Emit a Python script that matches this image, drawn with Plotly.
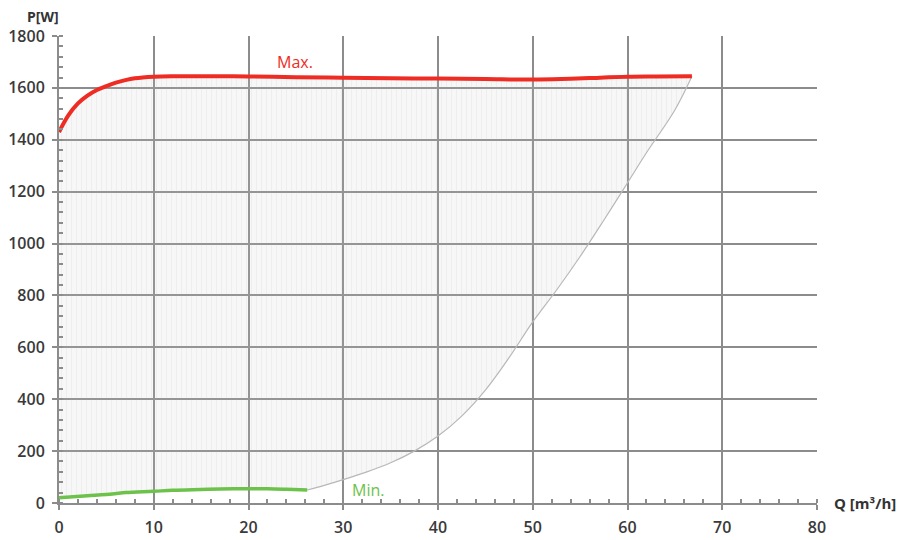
import plotly.graph_objects as go

# Max. curve (top of the operating range)
q_max = [0, 1, 2, 3, 4, 5, 6, 7, 8, 10, 12, 15, 20, 25, 30, 35, 40, 45, 50, 53, 56, 60, 63, 66.8]
p_max = [1430, 1495, 1540, 1570, 1592, 1607, 1620, 1630, 1637, 1643, 1645, 1645, 1644, 1641, 1639, 1637, 1636, 1634, 1632, 1634, 1638, 1643, 1644, 1645]

# right-hand boundary of the operating range
q_edge = [66.8, 65, 62, 60, 57.5, 55, 52.5, 50, 47.5, 45, 42.5, 40, 37.5, 35, 32.5, 30, 28, 26.2]
p_edge = [1645, 1515, 1350, 1234, 1090, 950, 820, 698, 560, 435, 335, 258, 200, 155, 120, 90, 68, 50]

# Min. curve (bottom of the operating range)
q_min = [26.2, 24, 22, 20, 17, 15, 12, 10, 7, 5, 3, 0]
p_min = [50, 53, 55, 55, 54, 52, 49, 45, 40, 33, 28, 20]

fig = go.Figure()

# shaded operating area (translucent so the grid shows through)
fig.add_trace(go.Scatter(
    x=q_max + q_edge + q_min,
    y=p_max + p_edge + p_min,
    mode="lines", fill="toself",
    line=dict(color="rgba(0,0,0,0)", width=0),
    fillcolor="rgba(200,200,200,0.15)",
    fillpattern=dict(shape="|", size=5, solidity=0.15,
                     fgcolor="rgba(170,170,170,0.3)", bgcolor="rgba(200,200,200,0.14)"),
    hoverinfo="skip", showlegend=False,
))

fig.add_trace(go.Scatter(x=q_edge, y=p_edge, mode="lines",
                         line=dict(color="#b8b8b8", width=1.2, shape="spline"),
                         showlegend=False))
fig.add_trace(go.Scatter(x=q_max, y=p_max, mode="lines",
                         line=dict(color="#ee2c24", width=4, shape="spline"),
                         showlegend=False))
fig.add_trace(go.Scatter(x=q_min, y=p_min, mode="lines",
                         line=dict(color="#6cc24a", width=3.5, shape="spline"),
                         showlegend=False))

fig.add_annotation(x=24.9, y=1700, text="Max.", showarrow=False,
                   font=dict(color="#ee2c24", size=16))
fig.add_annotation(x=32.6, y=50, text="Min.", showarrow=False,
                   font=dict(color="#6cc24a", size=16))

fig.add_annotation(xref="paper", yref="paper", x=-0.021, y=1.0, yshift=20,
                   text="<b>P[W]</b>", showarrow=False, xanchor="center", yanchor="middle",
                   font=dict(color="#333", size=14))
fig.add_annotation(xref="paper", yref="paper", x=1.0, y=0.0, xshift=15,
                   text="<b>Q [m³/h]</b>", showarrow=False, xanchor="left", yanchor="middle",
                   font=dict(color="#333", size=15))

axis_common = dict(
    showgrid=True, gridcolor="#8c8c8c", gridwidth=2,
    showline=True, linecolor="#8c8c8c", linewidth=2,
    zeroline=False, ticks="outside", ticklen=5, tickwidth=2, tickcolor="#8c8c8c",
    automargin=False,
    tickfont=dict(size=16, color="#3a3a3a", weight=600),
)

fig.update_xaxes(range=[0, 80], dtick=10, tick0=0, ticklabelstandoff=4,
                 minor=dict(dtick=2, ticks="inside", ticklen=4, tickcolor="#8c8c8c", showgrid=False),
                 **axis_common)
fig.update_yaxes(range=[0, 1800], dtick=200, tick0=0, ticklabelstandoff=4,
                 minor=dict(dtick=40, ticks="inside", ticklen=4, tickcolor="#8c8c8c", showgrid=False),
                 **axis_common)

# page body adds an 8px margin, so the figure is drawn 8px smaller
fig.update_layout(
    width=902, height=532,
    margin=dict(l=51, r=93, t=28, b=37),
    plot_bgcolor="white", paper_bgcolor="white",
    font=dict(family="Open Sans, sans-serif", color="#333"),
)

fig.write_html("out.html")
